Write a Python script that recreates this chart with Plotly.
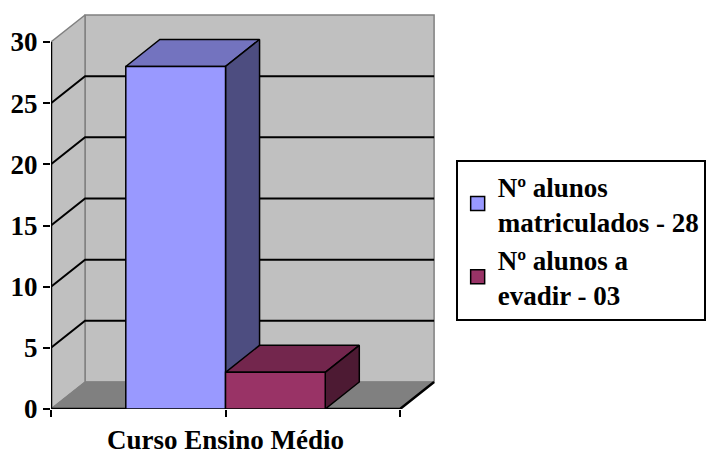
import plotly.graph_objects as go

# ---------------- data ----------------
categories = ["Curso Ensino Médio"]
series_names = ["Nº alunos<br>matriculados - 28", "Nº alunos a<br>evadir - 03"]
series_values = [28, 3]
y_tick_values = [0, 5, 10, 15, 20, 25, 30]
y_max = 30

# ---------------- style ----------------
W, H = 718, 453
AX0, AX1 = 51, 415                        # category axis ends (px)
Y0, YTOP = 409, 42                        # px of 0 and y_max
DEPTH_PX = (35.5, 27)
GAP = 1.5
front_colors = ["#9999FF", "#993366"]
top_colors = ["#7373BF", "#73264D"]
side_colors = ["#4D4D80", "#4D1A33"]
WALL = "#C0C0C0"
FLOOR = "#808080"
EDGE = "#808080"
FONT = "Liberation Serif"

sx = AX1 - AX0
sy = (Y0 - YTOP) / y_max
dx = DEPTH_PX[0] / sx
dy = DEPTH_PX[1] / sy
PL, PB = AX0, Y0
PR = AX1 + DEPTH_PX[0] + 2
PT = YTOP - DEPTH_PX[1] - 1
x_range = [0, (PR - AX0) / sx]
y_range = [0, (Y0 - PT) / sy]


def bold(s):
    return "<b>" + s.replace("<br>", "</b><br><b>") + "</b>"


def P(x, y, z):
    return x + z * dx, y + z * dy


def poly(points, fill, line_color, lw):
    xs = [p[0] for p in points] + [points[0][0]]
    ys = [p[1] for p in points] + [points[0][1]]
    return go.Scatter(x=xs, y=ys, mode="lines", fill="toself", fillcolor=fill,
                      line=dict(color=line_color, width=lw), hoverinfo="skip",
                      showlegend=False, cliponaxis=False)


def lines(segs, color, lw):
    xs, ys = [], []
    for seg in segs:
        for p in seg:
            xs.append(p[0]); ys.append(p[1])
        xs.append(None); ys.append(None)
    return go.Scatter(x=xs, y=ys, mode="lines", line=dict(color=color, width=lw),
                      hoverinfo="skip", showlegend=False, cliponaxis=False)


fig = go.Figure()
ncat = len(categories)
# walls and floor
fig.add_trace(poly([P(0, 0, 1), P(ncat, 0, 1), P(ncat, y_max, 1), P(0, y_max, 1)], WALL, EDGE, 1.5))
fig.add_trace(poly([P(0, 0, 0), P(0, 0, 1), P(0, y_max, 1), P(0, y_max, 0)], WALL, EDGE, 1.5))
fig.add_trace(poly([P(0, 0, 0), P(ncat, 0, 0), P(ncat, 0, 1), P(0, 0, 1)], FLOOR, EDGE, 1))
# gridlines
grid = [[P(0, v, 0), P(0, v, 1), P(ncat, v, 1)] for v in y_tick_values if 0 < v < y_max]
fig.add_trace(lines(grid, "black", 2))
# front axes lines
fig.add_trace(lines([[P(0, 0, 0), P(0, y_max, 0)],
                     [P(0, 0, 0), P(ncat, 0, 0), P(ncat, 0, 1)]], "black", 2.5))

ns = len(series_values)
w = 1.0 / (ns + GAP)

# legend entries (markers sit under their bar's front face)
for i, name in enumerate(series_names):
    a = GAP * w / 2 + i * w
    fig.add_trace(go.Scatter(x=[a + w / 2], y=[series_values[i] / 2], mode="markers", name=bold(name),
                             marker=dict(symbol="square", size=14, color=front_colors[i],
                                         line=dict(color="black", width=1.5)),
                             hoverinfo="skip", showlegend=True))

# bars
for ci in range(ncat):
    for i, v in enumerate(series_values):
        a = ci + GAP * w / 2 + i * w
        b = a + w
        fig.add_trace(poly([P(a, v, 0), P(b, v, 0), P(b, v, 1), P(a, v, 1)], top_colors[i], "black", 1.5))
        fig.add_trace(poly([P(b, 0, 0), P(b, 0, 1), P(b, v, 1), P(b, v, 0)], side_colors[i], "black", 1.5))
        fig.add_trace(poly([P(a, 0, 0), P(b, 0, 0), P(b, v, 0), P(a, v, 0)], front_colors[i], "black", 1.5))

fig.update_layout(
    template="none",
    width=W, height=H,
    margin=dict(l=PL, r=W - PR, t=PT, b=H - PB),
    font=dict(family=FONT, size=27, color="black"),
    xaxis=dict(range=x_range, showgrid=False, zeroline=False,
               tickvals=[0, 0.5, 1], ticktext=["", bold(categories[0]), ""],
               ticks="outside", ticklen=7, tickwidth=2, tickcolor="black",
               tickfont=dict(family=FONT, size=27)),
    yaxis=dict(range=y_range, showgrid=False, zeroline=False,
               tickvals=y_tick_values, ticktext=[bold(str(v)) for v in y_tick_values],
               ticks="outside", ticklen=7, tickwidth=2, tickcolor="black",
               tickfont=dict(family=FONT, size=27)),
    legend=dict(x=(473 - PL) / (PR - PL), xanchor="left",
                y=(PB - 160) / (PB - PT), yanchor="top",
                bordercolor="black", borderwidth=2,
                font=dict(family=FONT, size=27)),
)

fig.write_html("out.html")
